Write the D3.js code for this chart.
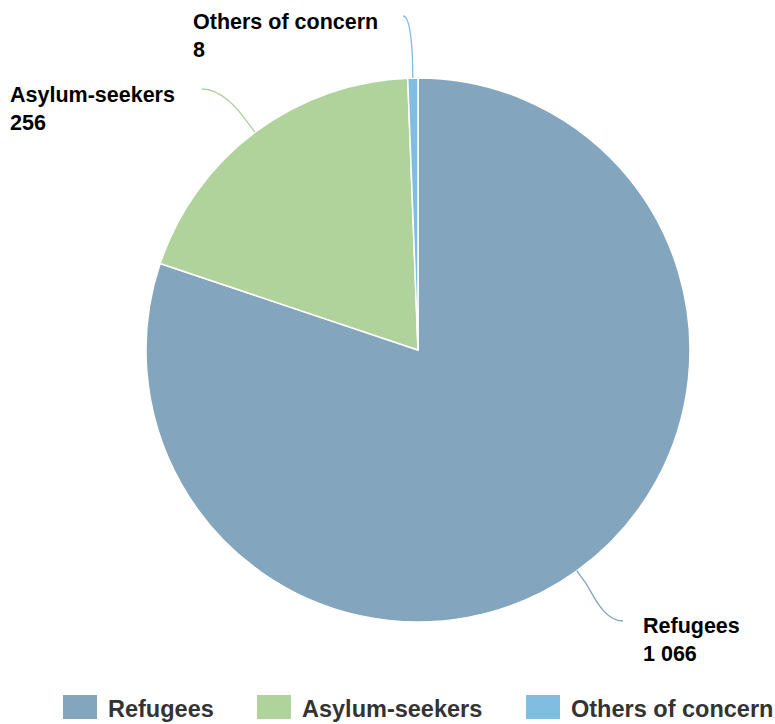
<!DOCTYPE html>
<html>
<head>
<meta charset="utf-8">
<script src="https://cdn.jsdelivr.net/npm/d3@7"></script>
<style>
  body { margin: 0; background: #fff; }
  text { font-family: "Liberation Sans", Arial, sans-serif; font-weight: bold; }
</style>
</head>
<body>
<div id="chart"></div>
<script>
var w = 775;
var h = 724;

var categories = ['Refugees', 'Asylum-seekers', 'Others of concern'];
var values = [1066, 256, 8];
var valueLabels = ['1 066', '256', '8'];
var colors = ['#83a5bd', '#b0d29b', '#80bde1'];

// where each label block starts (text x, first baseline)
var labelAnchors = [[643, 633], [10, 102], [193, 29]];
var connectorEnds = [[623, 621], [202, 89], [403, 16]];

var cx = 418, cy = 350, r = 272;

var svg = d3.select('#chart').append('svg')
  .attr('width', w).attr('height', h);

var data = categories.map(function (c, i) {
  return { name: c, value: values[i], label: valueLabels[i], color: colors[i], i: i };
});

var pie = d3.pie().sort(null).value(function (d) { return d.value; });
var arc = d3.arc().innerRadius(0).outerRadius(r);
var arcs = pie(data);

var g = svg.append('g').attr('transform', 'translate(' + cx + ',' + cy + ')');

g.selectAll('path.slice')
  .data(arcs)
  .enter()
  .append('path')
  .attr('class', 'slice')
  .attr('d', arc)
  .attr('fill', function (d) { return d.data.color; })
  .attr('stroke', '#fff')
  .attr('stroke-width', 1.5)
  .attr('stroke-linejoin', 'round');

// soft connectors: edge -> short radial break -> curve to label
function connector(d) {
  var a = (d.startAngle + d.endAngle) / 2;
  var ex = cx + Math.sin(a) * r, ey = cy - Math.cos(a) * r;
  var bx = cx + Math.sin(a) * (r + 14), by = cy - Math.cos(a) * (r + 14);
  var end = connectorEnds[d.data.i];
  var lx = end[0], ly = end[1];
  var dir = bx > lx ? 1 : -1;
  var off = Math.min(20, Math.abs(bx - lx) * 0.8);
  var p = d3.path();
  p.moveTo(lx, ly);
  p.bezierCurveTo(lx + dir * off, ly, 2 * bx - ex, 2 * by - ey, bx, by);
  p.lineTo(ex, ey);
  return p.toString();
}

svg.selectAll('path.conn')
  .data(arcs)
  .enter()
  .append('path')
  .attr('class', 'conn')
  .attr('d', connector)
  .attr('fill', 'none')
  .attr('stroke', function (d) { return d.data.color; })
  .attr('stroke-width', 1.3);

var labels = svg.selectAll('text.lbl')
  .data(arcs)
  .enter()
  .append('text')
  .attr('class', 'lbl')
  .attr('x', function (d) { return labelAnchors[d.data.i][0]; })
  .attr('y', function (d) { return labelAnchors[d.data.i][1]; })
  .attr('fill', '#000')
  .style('font-size', '21.5px');

labels.append('tspan')
  .text(function (d) { return d.data.name; });
labels.append('tspan')
  .attr('x', function (d) { return labelAnchors[d.data.i][0]; })
  .attr('dy', 27.5)
  .text(function (d) { return d.data.label; });

// legend
var legendX = [63, 257, 526];
var legend = svg.selectAll('g.leg')
  .data(data)
  .enter()
  .append('g')
  .attr('class', 'leg')
  .attr('transform', function (d) { return 'translate(' + legendX[d.i] + ',695)'; });

legend.append('rect')
  .attr('width', 34).attr('height', 24)
  .attr('fill', function (d) { return d.color; });

legend.append('text')
  .attr('x', 45).attr('y', 22)
  .attr('fill', '#333')
  .style('font-size', '23.5px')
  .text(function (d) { return d.name; });
</script>
</body>
</html>
